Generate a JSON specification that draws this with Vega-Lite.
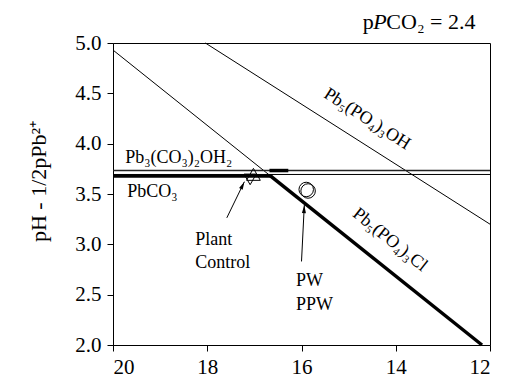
{
  "$schema": "https://vega.github.io/schema/vega-lite/v6.json",
  "width": 377,
  "height": 302,
  "autosize": {"type": "none"},
  "padding": {"left": 113, "top": 43, "right": 16, "bottom": 42},
  "background": "white",
  "config": {
    "view": {"stroke": "#000", "strokeWidth": 1},
    "font": "'Liberation Serif', 'Times New Roman', serif",
    "text": {"font": "'Liberation Serif', 'Times New Roman', serif"},
    "axis": {
      "grid": false,
      "domainColor": "#000",
      "tickColor": "#000",
      "labelColor": "#000",
      "titleColor": "#000",
      "labelFont": "'Liberation Serif', 'Times New Roman', serif",
      "titleFont": "'Liberation Serif', 'Times New Roman', serif",
      "labelFontSize": 21,
      "tickSize": 6,
      "titleFontWeight": "normal"
    }
  },
  "datasets": {
    "lines": [
      {"id": "OH", "x": 18.04, "y": 5.0},
      {"id": "OH", "x": 12.0, "y": 3.2},
      {"id": "ClThin", "x": 20.0, "y": 4.93},
      {"id": "ClThin", "x": 16.66, "y": 3.68},
      {"id": "ClThick", "x": 16.66, "y": 3.68},
      {"id": "ClThick", "x": 12.17, "y": 2.0},
      {"id": "Pb3Upper", "x": 20.0, "y": 3.733},
      {"id": "Pb3Upper", "x": 12.0, "y": 3.733},
      {"id": "Pb3Lower", "x": 20.0, "y": 3.694},
      {"id": "Pb3Lower", "x": 12.0, "y": 3.694},
      {"id": "PbCO3", "x": 20.0, "y": 3.68},
      {"id": "PbCO3", "x": 16.62, "y": 3.68},
      {"id": "Pb3Stable", "x": 16.68, "y": 3.733},
      {"id": "Pb3Stable", "x": 16.28, "y": 3.733}
    ],
    "points": [
      {"name": "Control", "x": 17.02, "y": 3.695},
      {"name": "Plant", "x": 17.09, "y": 3.645},
      {"name": "PW", "x": 15.9, "y": 3.545},
      {"name": "PPW", "x": 15.86, "y": 3.53}
    ],
    "arrows": [
      {"name": "Plant", "x": 17.585, "y": 3.263, "x2": 17.212, "y2": 3.622},
      {"name": "PW", "x": 16.0, "y": 2.83, "x2": 15.94, "y2": 3.39}
    ],
    "labels": [
      {"kind": "flat", "label": "Pb₃(CO₃)₂OH₂", "x": 19.74, "y": 3.857},
      {"kind": "flat", "label": "PbCO₃", "x": 19.7, "y": 3.52},
      {"kind": "flat", "label": "Plant", "x": 18.256, "y": 3.045},
      {"kind": "flat", "label": "Control", "x": 18.256, "y": 2.817},
      {"kind": "flat", "label": "PW", "x": 16.117, "y": 2.631},
      {"kind": "flat", "label": "PPW", "x": 16.117, "y": 2.4},
      {"kind": "oh", "label": "Pb₅(PO₄)₃OH", "x": 14.61, "y": 4.244},
      {"kind": "cl", "label": "Pb₅(PO₄)₃Cl", "x": 14.125, "y": 3.045},
      {"kind": "top1", "label": "p", "x": 14.7, "y": 5.205},
      {"kind": "top2", "label": "P", "x": 14.48, "y": 5.205},
      {"kind": "top3", "label": "CO₂ = 2.4", "x": 14.2, "y": 5.205}
    ]
  },
  "encoding": {
    "x": {
      "field": "x",
      "type": "quantitative",
      "scale": {"domain": [12, 20], "reverse": true, "nice": false, "zero": false},
      "axis": {"values": [12, 14, 16, 18, 20], "format": "d", "title": null, "labelPadding": 5}
    },
    "y": {
      "field": "y",
      "type": "quantitative",
      "scale": {"domain": [2, 5], "nice": false, "zero": false},
      "axis": {
        "values": [2, 2.5, 3, 3.5, 4, 4.5, 5],
        "format": ".1f",
        "labelPadding": 6,
        "title": "pH - 1/2pPb²⁺",
        "titleFontSize": 22,
        "titleAngle": -90,
        "titleX": -75,
        "titleY": 138,
        "titleAlign": "center",
        "titleBaseline": "middle"
      }
    }
  },
  "layer": [
    {
      "data": {"name": "lines"},
      "transform": [{"filter": "datum.id === 'OH' || datum.id === 'ClThin' || datum.id === 'Pb3Lower'"}],
      "mark": {"type": "line", "color": "#000", "strokeWidth": 1},
      "encoding": {"detail": {"field": "id"}}
    },
    {
      "data": {"name": "lines"},
      "transform": [{"filter": "datum.id === 'Pb3Upper'"}],
      "mark": {"type": "line", "color": "#222", "strokeWidth": 1.6},
      "encoding": {"detail": {"field": "id"}}
    },
    {
      "data": {"name": "lines"},
      "transform": [{"filter": "datum.id === 'ClThick' || datum.id === 'PbCO3' || datum.id === 'Pb3Stable'"}],
      "mark": {"type": "line", "color": "#000", "strokeWidth": 3.5},
      "encoding": {"detail": {"field": "id"}}
    },
    {
      "data": {"name": "points"},
      "transform": [{"filter": "datum.name === 'Control'"}],
      "mark": {"type": "point", "shape": "triangle-up", "filled": false, "stroke": "#000", "strokeWidth": 1, "size": 190, "opacity": 1}
    },
    {
      "data": {"name": "points"},
      "transform": [{"filter": "datum.name === 'Plant'"}],
      "mark": {"type": "point", "shape": "triangle-down", "filled": false, "stroke": "#000", "strokeWidth": 1, "size": 150, "opacity": 1}
    },
    {
      "data": {"name": "points"},
      "transform": [{"filter": "datum.name === 'PW' || datum.name === 'PPW'"}],
      "mark": {"type": "point", "shape": "circle", "filled": false, "stroke": "#000", "strokeWidth": 1, "size": 210, "opacity": 1}
    },
    {
      "data": {"name": "arrows"},
      "mark": {"type": "rule", "color": "#000", "strokeWidth": 1},
      "encoding": {"x2": {"field": "x2"}, "y2": {"field": "y2"}}
    },
    {
      "data": {"name": "arrows"},
      "transform": [{"filter": "datum.name === 'Plant'"}],
      "mark": {"type": "point", "shape": "M0,0L-0.25,1L0.25,1Z", "filled": true, "color": "#000", "size": 256, "angle": 26, "opacity": 1},
      "encoding": {"x": {"field": "x2", "type": "quantitative"}, "y": {"field": "y2", "type": "quantitative"}}
    },
    {
      "data": {"name": "arrows"},
      "transform": [{"filter": "datum.name === 'PW'"}],
      "mark": {"type": "point", "shape": "M0,0L-0.25,1L0.25,1Z", "filled": true, "color": "#000", "size": 256, "angle": 3, "opacity": 1},
      "encoding": {"x": {"field": "x2", "type": "quantitative"}, "y": {"field": "y2", "type": "quantitative"}}
    },
    {
      "data": {"name": "labels"},
      "transform": [{"filter": "datum.kind === 'flat'"}],
      "mark": {"type": "text", "align": "left", "baseline": "middle", "fontSize": 18, "color": "#000"},
      "encoding": {"text": {"field": "label"}}
    },
    {
      "data": {"name": "labels"},
      "transform": [{"filter": "datum.kind === 'oh'"}],
      "mark": {"type": "text", "align": "center", "baseline": "middle", "fontSize": 18, "color": "#000", "angle": 32.5},
      "encoding": {"text": {"field": "label"}}
    },
    {
      "data": {"name": "labels"},
      "transform": [{"filter": "datum.kind === 'cl'"}],
      "mark": {"type": "text", "align": "center", "baseline": "middle", "fontSize": 18, "color": "#000", "angle": 38.7},
      "encoding": {"text": {"field": "label"}}
    },
    {
      "data": {"name": "labels"},
      "transform": [{"filter": "datum.kind === 'top1' || datum.kind === 'top3'"}],
      "mark": {"type": "text", "align": "left", "baseline": "middle", "fontSize": 22, "color": "#000"},
      "encoding": {"text": {"field": "label"}}
    },
    {
      "data": {"name": "labels"},
      "transform": [{"filter": "datum.kind === 'top2'"}],
      "mark": {"type": "text", "align": "left", "baseline": "middle", "fontSize": 22, "fontStyle": "italic", "color": "#000"},
      "encoding": {"text": {"field": "label"}}
    }
  ]
}
